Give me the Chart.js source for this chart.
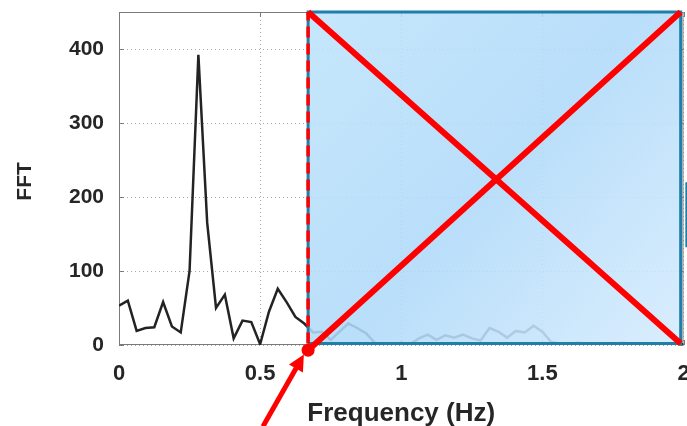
<!DOCTYPE html>
<html>
<head>
<meta charset="utf-8">
<script src="https://cdn.jsdelivr.net/npm/chart.js@4.4.1/dist/chart.umd.min.js"></script>
<style>
  html, body { margin: 0; padding: 0; background: #fff; }
</style>
</head>
<body>
<canvas id="fftChart" width="687" height="426"></canvas>
<script>
const freqStep = 0.03125
const fftValues = [
  53, 60, 19, 23, 24, 58, 25, 17, 100, 392,
  165, 50, 68, 9, 33, 31, 1, 45, 76, 58,
  38, 29, 17, 18, 7, 18, 29, 23, 16, 3,
  1, 1, 3, 1, 9, 14, 7, 13, 10, 14,
  9, 6, 23, 18, 10, 19, 17, 26, 18, 4,
  2, 1, 3, 2, 1, 2, 1, 3, 2, 1,
  2, 1, 2, 1, 1
]
const xTicks = [0, 0.5, 1, 1.5, 2]
const xTickLabels = ['0', '0.5', '1', '1.5', '2']
const yTicks = [0, 100, 200, 300, 400]
const yTickLabels = ['0', '100', '200', '300', '400']

// overlay box, cross and arrow (in data units)
const boxX = [0.67, 1.99]
const boxY = [2, 450]
const markerPoint = [0.67, -7]
const arrowFrom = [0.51, -110]
const arrowTo = [0.655, -13]
const sideMarkX = 2.01
const sideMarkY = [132, 220]

const red = '#ff0000'
const boxBlue = '#1f7fa8'
const textColor = '#262626'
const fontFamily = '"Liberation Sans", Arial, sans-serif'

let fftPoints = []
for (let i = 0; i < fftValues.length; i++) {
  fftPoints.push({x: i * freqStep, y: fftValues[i]})
}

const framePlugin = {
  id: 'frame',
  beforeDatasetsDraw(chart) {
    const ctx = chart.ctx
    const a = chart.chartArea
    const xs = chart.scales.x
    const ys = chart.scales.y
    ctx.save()
    ctx.strokeStyle = '#7a7a7a'
    ctx.lineWidth = 1
    ctx.strokeRect(a.left + 0.5, a.top + 0.5, a.right - a.left - 1, a.bottom - a.top - 1)
    ctx.beginPath()
    for (let i = 0; i < xTicks.length; i++) {
      const px = Math.round(xs.getPixelForValue(xTicks[i])) + 0.5
      ctx.moveTo(px, a.bottom); ctx.lineTo(px, a.bottom - 5)
      ctx.moveTo(px, a.top); ctx.lineTo(px, a.top + 5)
    }
    for (let i = 0; i < yTicks.length; i++) {
      const py = Math.round(ys.getPixelForValue(yTicks[i])) + 0.5
      ctx.moveTo(a.left, py); ctx.lineTo(a.left + 5, py)
      ctx.moveTo(a.right, py); ctx.lineTo(a.right - 5, py)
    }
    ctx.stroke()
    ctx.restore()
  }
}

const arrowPlugin = {
  id: 'arrow',
  afterDatasetsDraw(chart) {
    const ctx = chart.ctx
    const xs = chart.scales.x
    const ys = chart.scales.y
    const x0 = xs.getPixelForValue(arrowFrom[0]), y0 = ys.getPixelForValue(arrowFrom[1])
    const x1 = xs.getPixelForValue(arrowTo[0]), y1 = ys.getPixelForValue(arrowTo[1])
    const ang = Math.atan2(y1 - y0, x1 - x0)
    const headLen = 16, headW = 8
    const bx = x1 - headLen * Math.cos(ang), by = y1 - headLen * Math.sin(ang)
    ctx.save()
    ctx.strokeStyle = red
    ctx.fillStyle = red
    ctx.lineWidth = 5
    ctx.beginPath()
    ctx.moveTo(x0, y0)
    ctx.lineTo(bx + 2 * Math.cos(ang), by + 2 * Math.sin(ang))
    ctx.stroke()
    ctx.beginPath()
    ctx.moveTo(x1, y1)
    ctx.lineTo(bx + headW * Math.sin(ang), by - headW * Math.cos(ang))
    ctx.lineTo(bx - headW * Math.sin(ang), by + headW * Math.cos(ang))
    ctx.closePath()
    ctx.fill()
    ctx.restore()
  }
}

function boxFill(context) {
  const chart = context.chart
  const a = chart.chartArea
  if (!a) return 'rgba(178, 220, 249, 0.88)'
  const xs = chart.scales.x
  const ys = chart.scales.y
  const g = chart.ctx.createLinearGradient(
    xs.getPixelForValue(boxX[0]), ys.getPixelForValue(boxY[1]),
    xs.getPixelForValue(boxX[1]), ys.getPixelForValue(boxY[0])
  )
  g.addColorStop(0, 'rgba(190, 228, 252, 0.88)')
  g.addColorStop(0.5, 'rgba(176, 218, 249, 0.88)')
  g.addColorStop(1, 'rgba(212, 235, 253, 0.88)')
  return g
}

function noScalePadding(s) {
  s.paddingTop = 0
  s.paddingBottom = 0
  s.paddingLeft = 0
  s.paddingRight = 0
}

const fftChart = new Chart(
  document.getElementById('fftChart').getContext('2d'),
  {
    type: 'scatter',
    data: {
      datasets: [
        {
          // marker dot
          data: [{x: markerPoint[0], y: markerPoint[1]}],
          pointRadius: 6.5, pointBackgroundColor: red, pointBorderWidth: 0,
          showLine: false, clip: false, order: 0
        },
        {
          // dashed left edge
          data: [{x: boxX[0], y: boxY[0]}, {x: boxX[0], y: boxY[1]}],
          borderColor: red, borderWidth: 3.5, borderDash: [11, 6],
          pointRadius: 0, showLine: true, clip: false, order: 1
        },
        {
          data: [{x: markerPoint[0], y: markerPoint[1]}, {x: boxX[1], y: boxY[1]}],
          borderColor: red, borderWidth: 6, pointRadius: 0, showLine: true, clip: false, order: 2
        },
        {
          data: [{x: boxX[0], y: boxY[1]}, {x: boxX[1], y: boxY[0]}],
          borderColor: red, borderWidth: 6, pointRadius: 0, showLine: true, clip: false, order: 3
        },
        {
          // shaded box
          data: [
            {x: boxX[0], y: boxY[0]}, {x: boxX[0], y: boxY[1]},
            {x: boxX[1], y: boxY[1]}, {x: boxX[1], y: boxY[0]},
            {x: boxX[0], y: boxY[0]}
          ],
          borderColor: boxBlue, borderWidth: 3, backgroundColor: boxFill, fill: 'shape',
          pointRadius: 0, showLine: true, clip: false, order: 4
        },
        {
          data: [{x: sideMarkX, y: sideMarkY[0]}, {x: sideMarkX, y: sideMarkY[1]}],
          borderColor: boxBlue, borderWidth: 2, pointRadius: 0, showLine: true, clip: false, order: 5
        },
        {
          label: 'FFT',
          data: fftPoints,
          borderColor: '#232323', borderWidth: 2.5, pointRadius: 0,
          showLine: true, tension: 0, order: 6
        }
      ]
    },
    options: {
      responsive: false,
      animation: false,
      devicePixelRatio: 1,
      layout: {autoPadding: false, padding: {left: 0, top: 12, right: 3.5, bottom: 0}},
      plugins: {legend: {display: false}, tooltip: {enabled: false}},
      scales: {
        x: {
          type: 'linear', min: 0, max: 2,
          afterBuildTicks: s => { s.ticks = xTicks.map(v => ({value: v})) },
          afterFit: s => { s.height = 81; noScalePadding(s) },
          grid: {color: '#a8a8a8', drawTicks: false, lineWidth: 1},
          border: {display: false, dash: [1, 3]},
          ticks: {
            font: {family: fontFamily, size: 22, weight: 'bold'},
            color: textColor, padding: 15.5, maxRotation: 0,
            callback: (v, i) => xTickLabels[i]
          },
          title: {
            display: true, text: 'Frequency (Hz)', color: textColor,
            font: {family: fontFamily, size: 26, weight: 'bold', lineHeight: 0.95},
            padding: {top: 0, bottom: 0}
          }
        },
        y: {
          type: 'linear', min: 0, max: 450,
          afterBuildTicks: s => { s.ticks = yTicks.map(v => ({value: v})) },
          afterFit: s => { s.width = 119; noScalePadding(s) },
          grid: {color: '#a8a8a8', drawTicks: false, lineWidth: 1},
          border: {display: false, dash: [1, 3]},
          ticks: {
            font: {family: fontFamily, size: 21, weight: 'bold'},
            color: textColor, padding: 15,
            callback: (v, i) => yTickLabels[i]
          },
          title: {
            display: true, text: 'FFT ', color: textColor,
            font: {family: fontFamily, size: 21, weight: 'bold'},
            padding: {top: 13, bottom: 0}
          }
        }
      }
    },
    plugins: [framePlugin, arrowPlugin]
  }
)
</script>
</body>
</html>
